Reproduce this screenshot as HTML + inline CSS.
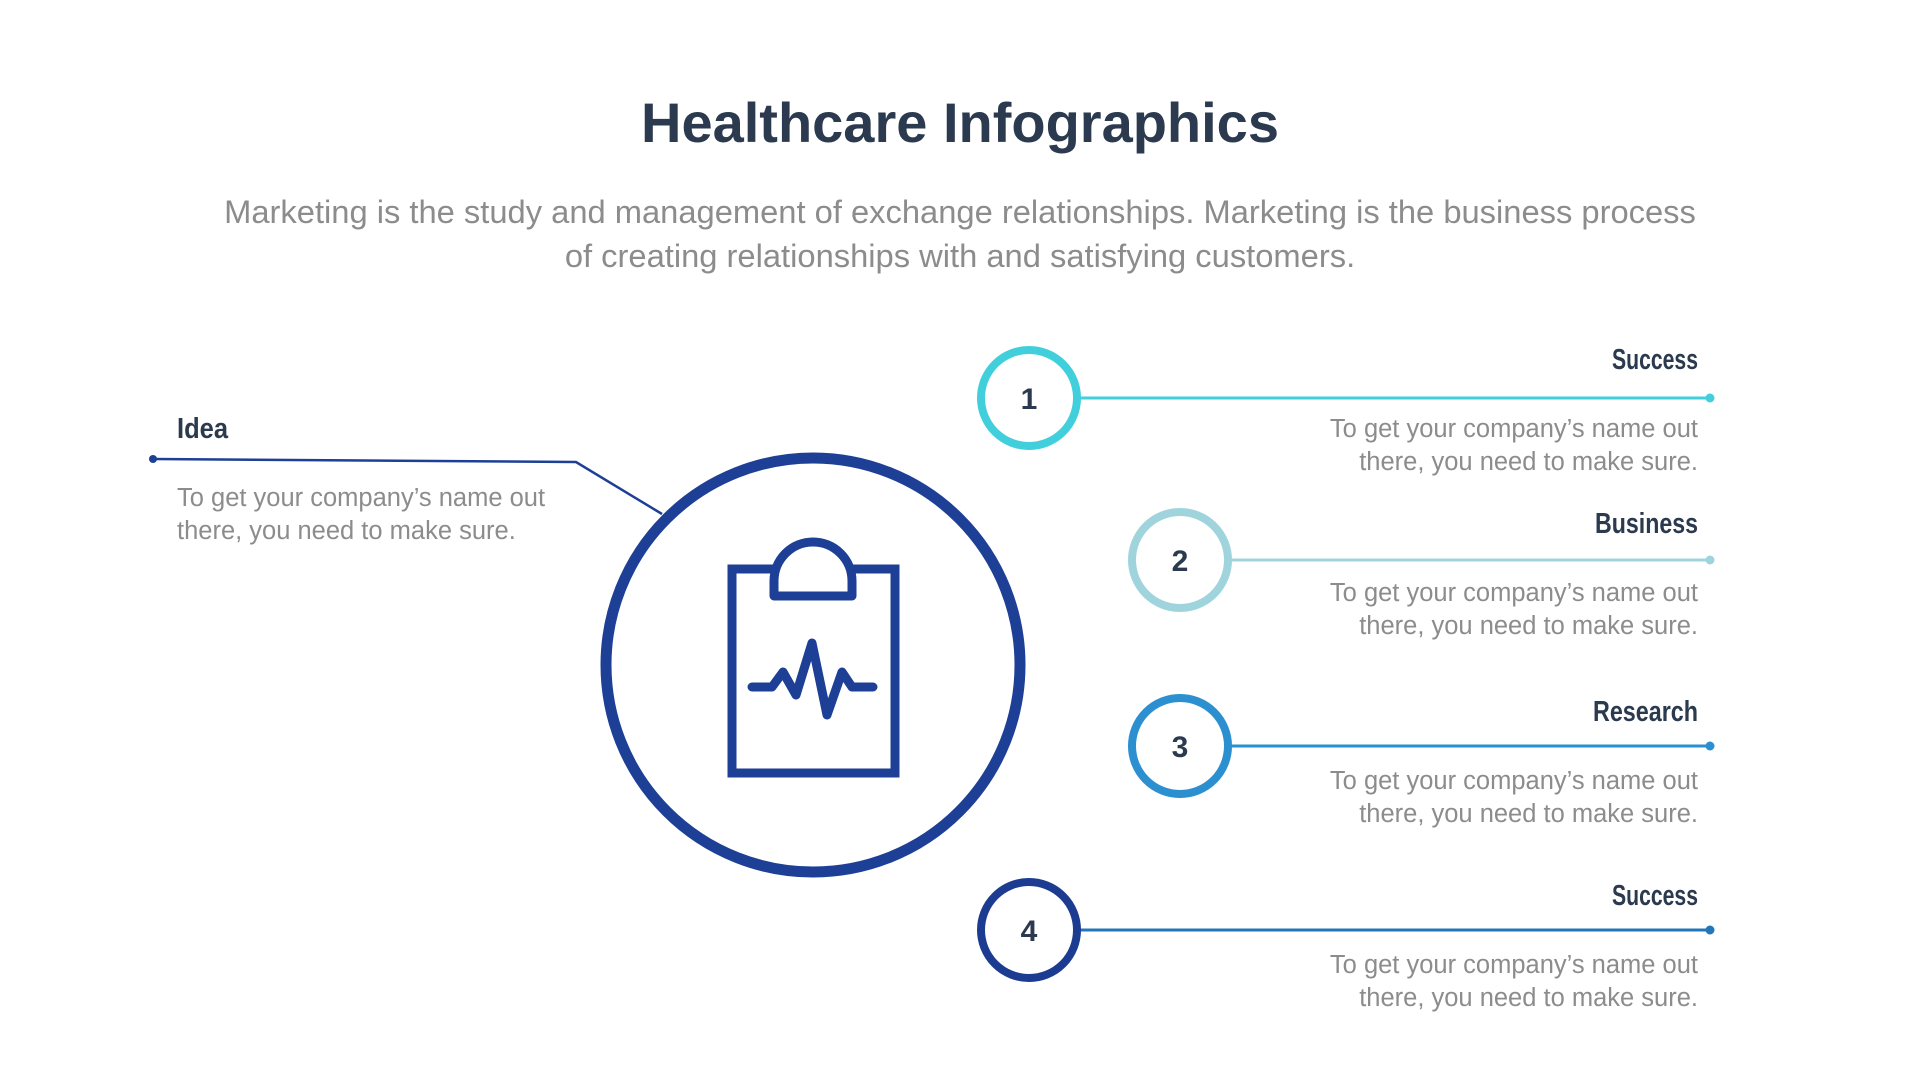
<!DOCTYPE html>
<html><head><meta charset="utf-8"><style>
html,body{margin:0;padding:0;background:#fff;}
svg{display:block}
text{font-family:"Liberation Sans",sans-serif}
.t{fill:#2b3a4e;font-weight:bold;font-size:29px}
.d{fill:#8c8c8c;font-size:25.5px}
.n{fill:#2b3a4e;font-weight:bold;font-size:30px}
</style></head><body>
<svg width="1920" height="1080" viewBox="0 0 1920 1080">
<rect width="1920" height="1080" fill="#fff"/>
<text x="960" y="142" text-anchor="middle" fill="#2b3a4e" font-size="56" font-weight="bold" font-family="Liberation Serif,serif">Healthcare Infographics</text>
<text x="960" y="223" text-anchor="middle" fill="#8c8c8c" font-size="32.7">Marketing is the study and management of exchange relationships. Marketing is the business process</text>
<text x="960" y="267" text-anchor="middle" fill="#8c8c8c" font-size="32.7">of creating relationships with and satisfying customers.</text>

<!-- Idea -->
<polyline points="153,459 576,462 662,514" fill="none" stroke="#1e3f96" stroke-width="2.5"/>
<circle cx="153" cy="459" r="4" fill="#1e3f96"/>
<text x="177" y="438" class="t" textLength="51" lengthAdjust="spacingAndGlyphs">Idea</text>
<text x="177" y="506" class="d">To get your company’s name out</text>
<text x="177" y="539" class="d">there, you need to make sure.</text>

<!-- main circle -->
<circle cx="813" cy="665" r="207" fill="#fff" stroke="#1e3f96" stroke-width="11"/>
<rect x="732" y="569" width="163" height="204" fill="none" stroke="#1e3f96" stroke-width="9"/>
<path d="M774,596 L774,581 A39,39 0 0 1 852,581 L852,596 Z" fill="#fff" stroke="#1e3f96" stroke-width="9" stroke-linejoin="round"/>
<polyline points="752,687 772,687 783,672 796,695 812,643 827,715 842,672 852,687 873,687" fill="none" stroke="#1e3f96" stroke-width="9" stroke-linejoin="round" stroke-linecap="round"/>

<!-- 1 -->
<line x1="1080" y1="398" x2="1710" y2="398" stroke="#42cfdc" stroke-width="3"/>
<circle cx="1710" cy="398" r="4.5" fill="#42cfdc"/>
<circle cx="1029" cy="398" r="48" fill="#fff" stroke="#42cfdc" stroke-width="8"/>
<text x="1029" y="409" text-anchor="middle" class="n">1</text>
<text x="1698" y="369" text-anchor="end" class="t" textLength="86" lengthAdjust="spacingAndGlyphs">Success</text>
<text x="1698" y="437" text-anchor="end" class="d">To get your company’s name out</text>
<text x="1698" y="470" text-anchor="end" class="d">there, you need to make sure.</text>

<!-- 2 -->
<line x1="1231" y1="560" x2="1710" y2="560" stroke="#9fd4dd" stroke-width="3"/>
<circle cx="1710" cy="560" r="4.5" fill="#9fd4dd"/>
<circle cx="1180" cy="560" r="48" fill="#fff" stroke="#9fd4dd" stroke-width="8"/>
<text x="1180" y="571" text-anchor="middle" class="n">2</text>
<text x="1698" y="533" text-anchor="end" class="t" textLength="103" lengthAdjust="spacingAndGlyphs">Business</text>
<text x="1698" y="601" text-anchor="end" class="d">To get your company’s name out</text>
<text x="1698" y="634" text-anchor="end" class="d">there, you need to make sure.</text>

<!-- 3 -->
<line x1="1231" y1="746" x2="1710" y2="746" stroke="#2b8fd0" stroke-width="3"/>
<circle cx="1710" cy="746" r="4.5" fill="#2b8fd0"/>
<circle cx="1180" cy="746" r="48" fill="#fff" stroke="#2b8fd0" stroke-width="8"/>
<text x="1180" y="757" text-anchor="middle" class="n">3</text>
<text x="1698" y="721" text-anchor="end" class="t" textLength="105" lengthAdjust="spacingAndGlyphs">Research</text>
<text x="1698" y="789" text-anchor="end" class="d">To get your company’s name out</text>
<text x="1698" y="822" text-anchor="end" class="d">there, you need to make sure.</text>

<!-- 4 -->
<line x1="1080" y1="930" x2="1710" y2="930" stroke="#2376b8" stroke-width="3"/>
<circle cx="1710" cy="930" r="4.5" fill="#2376b8"/>
<circle cx="1029" cy="930" r="48" fill="#fff" stroke="#1c3c91" stroke-width="8"/>
<text x="1029" y="941" text-anchor="middle" class="n">4</text>
<text x="1698" y="905" text-anchor="end" class="t" textLength="86" lengthAdjust="spacingAndGlyphs">Success</text>
<text x="1698" y="973" text-anchor="end" class="d">To get your company’s name out</text>
<text x="1698" y="1006" text-anchor="end" class="d">there, you need to make sure.</text>
</svg>
</body></html>
